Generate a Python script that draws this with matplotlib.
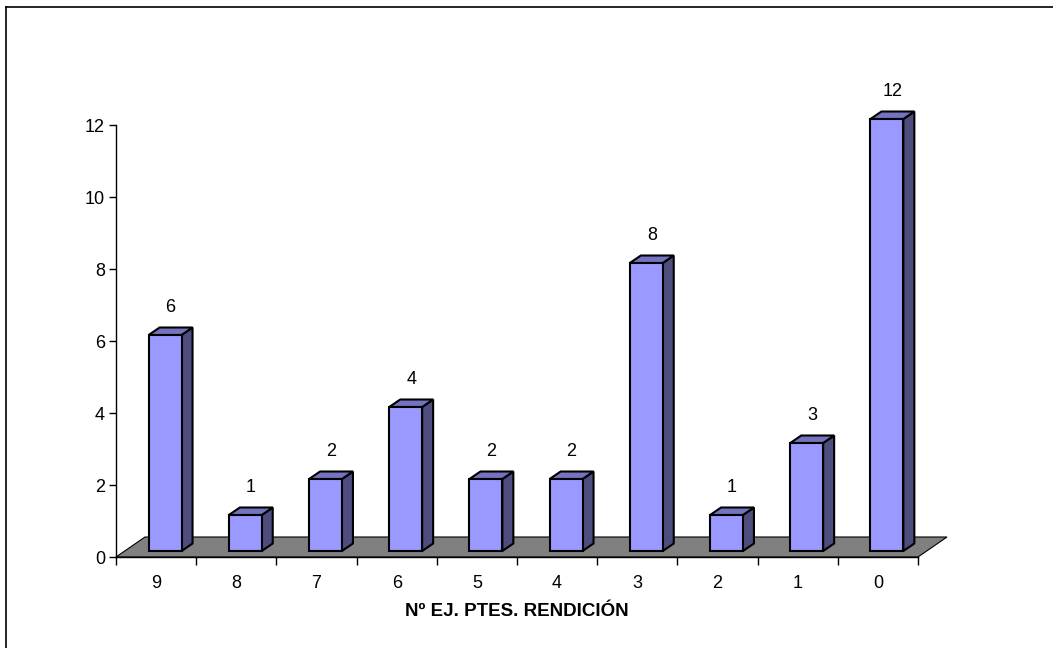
import matplotlib
matplotlib.use("Agg")
import matplotlib.pyplot as plt
from matplotlib.patches import Polygon
from matplotlib.lines import Line2D
import numpy as np

# data
categories = ["9", "8", "7", "6", "5", "4", "3", "2", "1", "0"]
counts = [6, 1, 2, 4, 2, 2, 8, 1, 3, 12]
y_ticks = [0, 2, 4, 6, 8, 10, 12]
x_label = "Nº EJ. PTES. RENDICIÓN"

plt.rcParams["font.family"] = ["Liberation Sans", "DejaVu Sans"]

W, H = 1053, 648
fig = plt.figure(figsize=(W / 100, H / 100), dpi=100)
ax = fig.add_axes([116 / W, (H - 557) / H, 802 / W, 432 / H])
n = len(categories)
ax.set_xlim(-0.5, n - 0.5)
ax.set_ylim(0, max(y_ticks))

# pixels per data unit, used for the fake 3D depth
p0 = ax.transData.transform((0, 0))
p1 = ax.transData.transform((1, 1))
ux, uy = p1[0] - p0[0], p1[1] - p0[1]


def off(px, py):
    return px / ux, py / uy


# floor
fdx, fdy = off(29, 20)
floor = Polygon([(-0.5, 0), (n - 0.5, 0), (n - 0.5 + fdx, fdy), (-0.5 + fdx, fdy)],
                closed=True, facecolor="#808080", edgecolor="black", lw=0.8,
                clip_on=False, zorder=1)
ax.add_patch(floor)

# bars
bw = 0.41
fx, fy = off(9, 6)       # front face sits a bit inside the floor
dx, dy = off(11, 7.5)    # bar depth
edge = dict(edgecolor="black", lw=1.5, joinstyle="miter", clip_on=False, zorder=3)
for i, v in enumerate(counts):
    x0 = i - bw / 2 + fx
    x1 = i + bw / 2 + fx
    y0 = fy
    y1 = v + fy
    ax.add_patch(Polygon([(x1, y0), (x1 + dx, y0 + dy), (x1 + dx, y1 + dy), (x1, y1)],
                         facecolor="#4D4D80", **edge))
    ax.add_patch(Polygon([(x0, y1), (x1, y1), (x1 + dx, y1 + dy), (x0 + dx, y1 + dy)],
                         facecolor="#7373BF", **edge))
    ax.add_patch(Polygon([(x0, y0), (x1, y0), (x1, y1), (x0, y1)],
                         facecolor="#9999FF", **edge))
    lx, ly = off(5.5, 27)
    ax.text(i + fx + lx, y1 + ly, str(v), ha="center", va="center",
            fontsize=13, clip_on=False, zorder=4)

# axes styling
for s in ["top", "right"]:
    ax.spines[s].set_visible(False)
ax.spines["left"].set_linewidth(1.0)
ax.spines["bottom"].set_linewidth(1.0)
ax.spines["bottom"].set_zorder(2)
ax.set_yticks(y_ticks)
ax.tick_params(axis="y", direction="out", length=5.0, width=1, pad=2.9, labelsize=13)
ax.set_xticks(range(n))
ax.set_xticklabels(categories)
ax.set_xticks(np.arange(-0.5, n, 1), minor=True)
ax.tick_params(axis="x", which="major", length=0, pad=13, labelsize=13)
ax.tick_params(axis="x", which="minor", direction="out", length=5.8, width=1)
ax.set_xlabel(x_label, fontsize=13.5, fontweight="bold", labelpad=8)
ax.patch.set_visible(False)

# outer chart border (only top and left edges show in the frame)
fig.add_artist(Line2D([6 / W, 1], [1 - 7 / H, 1 - 7 / H], transform=fig.transFigure,
                      color="black", lw=1.2))
fig.add_artist(Line2D([6 / W, 6 / W], [0, 1 - 7 / H], transform=fig.transFigure,
                      color="black", lw=1.2))

fig.savefig("out.png", dpi=100)
plt.close(fig)
